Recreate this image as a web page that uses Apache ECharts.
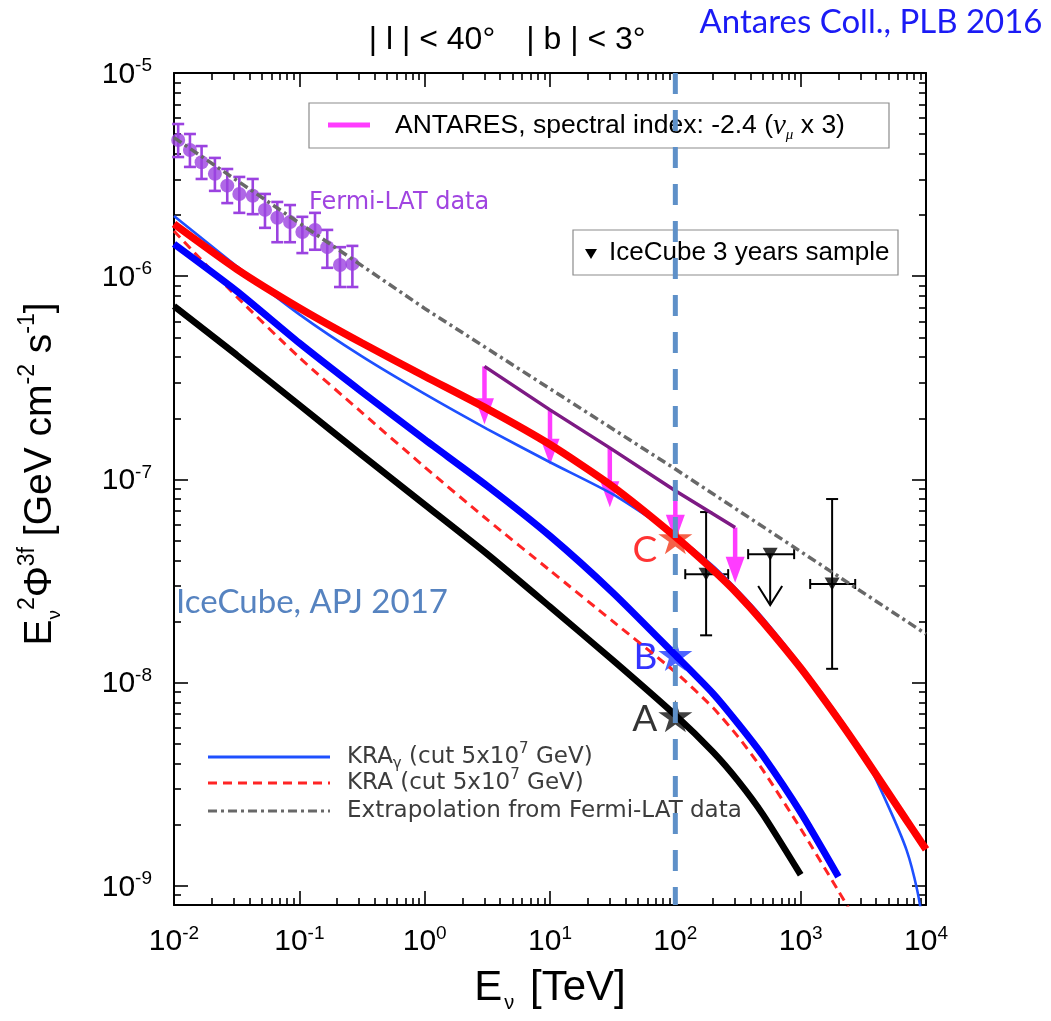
<!DOCTYPE html>
<html>
<head>
<meta charset="utf-8">
<script src="https://cdn.jsdelivr.net/npm/echarts@6/dist/echarts.min.js"></script>
<style>
  html, body { margin: 0; padding: 0; background: #fff; }
  #chart { width: 1051px; height: 1021px; }
</style>
</head>
<body>
<div id="chart"></div>
<script>
// E in TeV, flux = E^2 Phi in GeV cm^-2 s^-1
const modelE = [0.01, 0.0316, 0.1, 0.316, 1, 3.16, 10, 31.6, 100, 200, 316, 500, 1000, 2000, 3160, 5000, 7000, 8500, 10000];

// thick red (C)
const curveC = [1.806e-6, 1.084e-6, 6.98e-7, 4.69e-7, 3.22e-7, 2.225e-7, 1.485e-7, 9.23e-8, 5.23e-8, 3.58e-8, 2.72e-8, 1.987e-8, 1.180e-8, 6.60e-9, 4.39e-9, 2.87e-9, 2.10e-9, 1.757e-9, 1.512e-9];
// thick blue (B)
const curveB = [1.440e-6, 8.46e-7, 4.69e-7, 2.695e-7, 1.572e-7, 9.29e-8, 5.27e-8, 2.78e-8, 1.367e-8, 8.84e-9, 6.30e-9, 4.37e-9, 2.30e-9, 1.11e-9, null, null, null, null, null];
// thick black (A)
const curveA = [7.13e-7, 4.10e-7, 2.323e-7, 1.317e-7, 7.52e-8, 4.29e-8, 2.363e-8, 1.292e-8, 6.92e-9, 4.556e-9, 3.29e-9, 2.245e-9, 1.134e-9, null, null, null, null, null, null];
// KRA gamma (cut 5x10^7 GeV), thin blue
const kraGamma = [1.978e-6, 1.121e-6, 6.49e-7, 4.03e-7, 2.635e-7, 1.770e-7, 1.215e-7, 8.46e-8, 5.29e-8, 3.75e-8, 2.836e-8, 2.079e-8, 1.221e-8, 6.85e-9, 4.45e-9, 2.47e-9, 1.50e-9, 9.54e-10, 5.41e-10];
// KRA (cut 5x10^7 GeV), red dashed
const kra = [1.668e-6, 7.94e-7, 3.98e-7, 2.134e-7, 1.151e-7, 6.34e-8, 3.566e-8, 2.007e-8, 1.127e-8, 7.52e-9, 5.43e-9, 3.71e-9, 1.912e-9, 9.45e-10, 5.84e-10, null, null, null, null];

// extrapolation from Fermi-LAT data
const extrapE = [0.01, 1, 100, 10000];
const extrapFlux = [4.81e-6, 6.94e-7, 1.125e-7, 1.735e-8];

// Fermi-LAT points
const fermiE = [0.0108, 0.0134, 0.0166, 0.0212, 0.0266, 0.0332, 0.0425, 0.0532, 0.0667, 0.0843, 0.1057, 0.1334, 0.167, 0.211, 0.265];
const fermiFlux = [4.68e-6, 4.18e-6, 3.64e-6, 3.19e-6, 2.79e-6, 2.54e-6, 2.49e-6, 2.12e-6, 1.94e-6, 1.85e-6, 1.65e-6, 1.69e-6, 1.39e-6, 1.135e-6, 1.15e-6];
const fermiHi = [5.61e-6, 5.01e-6, 4.37e-6, 3.82e-6, 3.37e-6, 3.08e-6, 3.01e-6, 2.54e-6, 2.32e-6, 2.24e-6, 1.96e-6, 2.05e-6, 1.69e-6, 1.39e-6, 1.41e-6];
const fermiLo = [3.86e-6, 3.45e-6, 3.01e-6, 2.63e-6, 2.29e-6, 2.05e-6, 2.02e-6, 1.73e-6, 1.47e-6, 1.47e-6, 1.30e-6, 1.35e-6, 1.10e-6, 8.85e-7, 8.85e-7];

// ANTARES upper limits (spectral index -2.4)
const antaresE = [3, 10, 30, 100, 300];
const antaresLimit = [3.6e-7, 2.2e-7, 1.43e-7, 8.8e-8, 5.8e-8];
const antaresArrowTip = [1.87e-7, 1.18e-7, 7.3e-8, 5.0e-8, 3.1e-8];

// IceCube 3 years sample
const iceE = [176, 571, 1782];
const iceFlux = [3.42e-8, 4.29e-8, 3.06e-8];
const iceEmin = [120, 381, 1191];
const iceEmax = [264, 887, 2723];
const iceFluxMin = [1.71e-8, null, 1.17e-8];
const iceFluxMax = [6.91e-8, null, 8.01e-8];
const iceLimitTip = [null, 2.41e-8, null];

// marked points at 100 TeV
const starLabels = ['A', 'B', 'C'];
const starE = [100, 100, 100];
const starFlux = [6.85e-9, 1.37e-8, 5.15e-8];
const starColors = ['#111111', '#1f3dff', '#f23a1a'];
const starTextColors = ['#000000', '#0000ff', '#ff0000'];
const markE = 100;

// axes (log10 units)
const xDecades = [-2, -1, 0, 1, 2, 3, 4];
const yDecades = [-9, -8, -7, -6, -5];
const X_MIN = -2, X_MAX = 4, Y_MIN = -9.094, Y_MAX = -5;

const lg = Math.log10;
const SANS = '"Liberation Sans", Arial, sans-serif';
const FERMI_COLOR = '#9b42e0';
const ARROW_COLOR = '#ff3cff';

function minorTicks(lo, hi) {
  const out = [];
  for (let d = Math.floor(lo); d < hi; d++) {
    for (let k = 2; k <= 9; k++) {
      const v = d + lg(k);
      if (v > lo && v < hi) out.push(v);
    }
  }
  return out;
}
const xMinor = minorTicks(X_MIN, X_MAX);
const yMinor = minorTicks(Y_MIN, Y_MAX);

function pts(xs, ys) {
  return xs.map((x, i) => ys[i] == null ? null : [lg(x), lg(ys[i])]).filter(Boolean);
}

const tickRich = {
  b: { fontSize: 30, fontFamily: SANS, color: '#000', lineHeight: 33, verticalAlign: 'bottom' },
  s: { fontSize: 19, fontFamily: SANS, color: '#000', lineHeight: 19, verticalAlign: 'top' }
};
const powLabel = v => '{b|10}{s|' + Math.round(v) + '}';

function axis(dim, position, major, extra) {
  const isX = dim === 'x';
  const ax = {
    type: 'value',
    min: isX ? X_MIN : Y_MIN,
    max: isX ? X_MAX : Y_MAX,
    position: position,
    axisLine: { show: major, onZero: false, lineStyle: { color: '#000', width: 2 } },
    axisTick: {
      show: true, inside: true, length: major ? 14 : 7,
      customValues: major ? (isX ? xDecades : yDecades) : (isX ? xMinor : yMinor),
      lineStyle: { color: '#000', width: 1.6 }
    },
    axisLabel: { show: false },
    splitLine: { show: false }
  };
  return Object.assign(ax, extra || {});
}

const chart = echarts.init(document.getElementById('chart'));

function renderErrorBar(params, api) {
  const x = api.value(0);
  const pLo = api.coord([x, api.value(2)]);
  const pHi = api.coord([x, api.value(3)]);
  const w = 6;
  const style = { stroke: FERMI_COLOR, lineWidth: 2.6 };
  return {
    type: 'group', children: [
      { type: 'line', shape: { x1: pLo[0], y1: pLo[1], x2: pHi[0], y2: pHi[1] }, style },
      { type: 'line', shape: { x1: pLo[0] - w, y1: pLo[1], x2: pLo[0] + w, y2: pLo[1] }, style },
      { type: 'line', shape: { x1: pHi[0] - w, y1: pHi[1], x2: pHi[0] + w, y2: pHi[1] }, style }
    ]
  };
}

function renderArrow(params, api) {
  const top = api.coord([api.value(0), api.value(1)]);
  const tip = api.coord([api.value(0), api.value(2)]);
  const hh = 26, hw = 9.5;
  return {
    type: 'group', children: [
      { type: 'line', shape: { x1: top[0], y1: top[1], x2: tip[0], y2: tip[1] - hh + 2 }, style: { stroke: ARROW_COLOR, lineWidth: 4.5 } },
      { type: 'polygon', shape: { points: [[tip[0] - hw, tip[1] - hh], [tip[0] + hw, tip[1] - hh], [tip[0], tip[1]]] }, style: { fill: ARROW_COLOR } }
    ]
  };
}

function renderIce(params, api) {
  const x = api.value(0), y = api.value(1);
  const c = api.coord([x, y]);
  const l = api.coord([api.value(2), y]);
  const r = api.coord([api.value(3), y]);
  const st = { stroke: '#000', lineWidth: 2 };
  const ch = [
    { type: 'line', shape: { x1: l[0], y1: l[1], x2: r[0], y2: r[1] }, style: st },
    { type: 'line', shape: { x1: l[0], y1: l[1] - 5, x2: l[0], y2: l[1] + 5 }, style: st },
    { type: 'line', shape: { x1: r[0], y1: r[1] - 5, x2: r[0], y2: r[1] + 5 }, style: st }
  ];
  if (api.value(7)) {
    const lo = api.coord([x, api.value(4)]);
    const hi = api.coord([x, api.value(5)]);
    ch.push({ type: 'line', shape: { x1: lo[0], y1: lo[1], x2: hi[0], y2: hi[1] }, style: st });
    ch.push({ type: 'line', shape: { x1: lo[0] - 6, y1: lo[1], x2: lo[0] + 6, y2: lo[1] }, style: st });
    ch.push({ type: 'line', shape: { x1: hi[0] - 6, y1: hi[1], x2: hi[0] + 6, y2: hi[1] }, style: st });
  }
  if (api.value(8)) {
    const t = api.coord([x, api.value(6)]);
    ch.push({ type: 'line', shape: { x1: c[0], y1: c[1], x2: t[0], y2: t[1] }, style: st });
    ch.push({ type: 'polyline', shape: { points: [[t[0] - 12, t[1] - 19], [t[0], t[1]], [t[0] + 12, t[1] - 19]] }, style: { stroke: '#000', lineWidth: 2, fill: 'none' } });
  }
  return { type: 'group', children: ch };
}

const iceData = iceE.map((e, i) => {
  const hasV = iceFluxMin[i] != null;
  const isUL = iceLimitTip[i] != null;
  return [lg(e), lg(iceFlux[i]), lg(iceEmin[i]), lg(iceEmax[i]),
    lg(hasV ? iceFluxMin[i] : iceFlux[i]), lg(hasV ? iceFluxMax[i] : iceFlux[i]),
    lg(isUL ? iceLimitTip[i] : iceFlux[i]), hasV ? 1 : 0, isUL ? 1 : 0];
});

const starPath = 'path://M50 0 L61.17 34.63 L97.55 34.55 L68.07 55.87 L79.39 90.45 L50 69 L20.61 90.45 L31.93 55.87 L2.45 34.55 L38.83 34.63 Z';
const starOffsets = [[0, 3], [0, 2], [0, 12]];

const line = (name, data, color, width, type, smooth) => ({
  name, type: 'line', data, symbol: 'none', showSymbol: false,
  smooth: smooth ? 0.22 : false,
  lineStyle: { color, width, type: type || 'solid' }, silent: true
});

const yNameRich = {
  e: { fontSize: 39, fontFamily: SANS, fill: '#000', lineHeight: 48, verticalAlign: 'middle' },
  sub: { fontSize: 19, fontFamily: SANS, fill: '#000', lineHeight: 19, verticalAlign: 'bottom' },
  sup: { fontSize: 23, fontFamily: SANS, fill: '#000', lineHeight: 23, verticalAlign: 'top' }
};

const option = {
  animation: false,
  backgroundColor: '#fff',
  grid: { left: 174, right: 125, top: 73, bottom: 116, outerBoundsMode: 'none' },
  xAxis: [
    axis('x', 'bottom', true, {
      axisLabel: { show: true, customValues: xDecades, margin: 19, formatter: powLabel, rich: tickRich },
      name: '{e|E}{sub|ν}{e| [TeV]}',
      nameLocation: 'middle', nameGap: 58,
      nameTextStyle: {
        rich: {
          e: { fontSize: 42, fontFamily: SANS, color: '#000', lineHeight: 50, verticalAlign: 'middle' },
          sub: { fontSize: 20, fontFamily: SANS, color: '#000', lineHeight: 20, verticalAlign: 'bottom', padding: [0, 4, 0, 2] }
        }
      }
    }),
    axis('x', 'bottom', false),
    axis('x', 'top', true),
    axis('x', 'top', false)
  ],
  yAxis: [
    axis('y', 'left', true, {
      axisLabel: { show: true, customValues: yDecades, margin: 22, formatter: powLabel, rich: tickRich }
    }),
    axis('y', 'left', false),
    axis('y', 'right', true),
    axis('y', 'right', false)
  ],
  series: [
    line('Extrapolation from Fermi-LAT data', pts(extrapE, extrapFlux), '#686868', 3.5, [9, 4, 3, 4], false),
    line('KRAγ (cut 5x10^7 GeV)', pts(modelE, kraGamma), '#1e50ff', 2.6, 'solid', true),
    line('KRA (cut 5x10^7 GeV)', pts(modelE, kra), '#ff2424', 3, [9, 6], true),
    line('A', pts(modelE, curveA), '#000000', 6.5, 'solid', true),
    line('B', pts(modelE, curveB), '#0000ff', 7, 'solid', true),
    line('C', pts(modelE, curveC), '#ff0000', 7.5, 'solid', true),
    line('ANTARES limit', pts(antaresE, antaresLimit), '#7d1a84', 3.5, 'solid', false),
    {
      name: 'ANTARES arrows', type: 'custom', renderItem: renderArrow, silent: true,
      encode: { x: 0, y: [1, 2] },
      data: antaresE.map((e, i) => [lg(e), lg(antaresLimit[i]), lg(antaresArrowTip[i])])
    },
    {
      name: 'Fermi-LAT errors', type: 'custom', renderItem: renderErrorBar, silent: true,
      encode: { x: 0, y: [1, 2, 3] },
      data: fermiE.map((e, i) => [lg(e), lg(fermiFlux[i]), lg(fermiLo[i]), lg(fermiHi[i])])
    },
    {
      name: 'Fermi-LAT data', type: 'scatter', symbol: 'circle', symbolSize: 14, silent: true,
      itemStyle: { color: FERMI_COLOR },
      data: pts(fermiE, fermiFlux)
    },
    {
      name: 'IceCube errors', type: 'custom', renderItem: renderIce, silent: true,
      encode: { x: 0, y: 1 },
      data: iceData
    },
    {
      name: 'IceCube 3 years sample', type: 'scatter', symbol: 'triangle', symbolRotate: 180,
      symbolSize: [15, 13], silent: true, itemStyle: { color: '#000' },
      data: pts(iceE, iceFlux)
    },
    {
      name: 'points', type: 'scatter', symbol: starPath, symbolKeepAspect: true, symbolSize: 34, silent: true,
      data: starE.map((e, i) => ({
        name: starLabels[i], value: [lg(e), lg(starFlux[i])],
        itemStyle: { color: starColors[i] },
        label: { color: starTextColors[i], offset: starOffsets[i] }
      })),
      label: {
        show: true, position: 'left', distance: 1, formatter: '{b}',
        fontSize: 37, fontFamily: 'Lato, "Open Sans", sans-serif'
      }
    },
    {
      name: 'E = 100 TeV', type: 'line', symbol: 'none', silent: true,
      data: [[lg(markE), Y_MAX], [lg(markE), Y_MIN]],
      lineStyle: { color: '#5e90c8', width: 5, type: [21, 16] }
    }
  ],
  graphic: [
    // y axis title
    {
      type: 'text', x: 40, y: 474, rotation: Math.PI / 2, style: {
        text: '{e|E}{sub|ν}{sup|2}{e|Φ}{sup|3f}{e| [GeV cm}{sup|-2}{e| s}{sup|-1}{e|]}',
        align: 'center', verticalAlign: 'middle', rich: yNameRich
      }
    },
    { type: 'text', x: 432, y: 40, style: { text: '| l | < 40°', font: '32px ' + SANS, fill: '#000', align: 'center', verticalAlign: 'middle' } },
    { type: 'text', x: 586, y: 40, style: { text: '| b | < 3°', font: '32px ' + SANS, fill: '#000', align: 'center', verticalAlign: 'middle' } },
    { type: 'text', x: 871, y: 22, style: { text: 'Antares Coll., PLB 2016', font: '33px Lato, "Open Sans", sans-serif', fill: '#1b1bf5', align: 'center', verticalAlign: 'middle' } },
    { type: 'text', x: 176, y: 602, style: { text: 'IceCube, APJ 2017', font: '33px Lato, "Open Sans", sans-serif', fill: '#5683c0', align: 'left', verticalAlign: 'middle' } },
    { type: 'text', x: 309, y: 203, style: { text: 'Fermi-LAT data', font: '24px "DejaVu Sans", sans-serif', fill: '#a044e0', align: 'left', verticalAlign: 'middle' } },

    // ANTARES legend box
    { type: 'rect', shape: { x: 309, y: 103, width: 580, height: 45 }, style: { fill: '#fff', stroke: '#8c8c8c', lineWidth: 1.2 } },
    { type: 'line', shape: { x1: 328, y1: 125, x2: 370, y2: 125 }, style: { stroke: ARROW_COLOR, lineWidth: 5 } },
    {
      type: 'text', x: 395, y: 126, style: {
        text: '{n|ANTARES, spectral index: -2.4 (}{nu|ν}{mu|μ}{n| x 3)}',
        align: 'left', verticalAlign: 'middle',
        rich: {
          n: { fontSize: 26.5, fontFamily: SANS, fill: '#000', lineHeight: 34, verticalAlign: 'middle' },
          nu: { fontSize: 29, fontFamily: '"Liberation Serif", serif', fontStyle: 'italic', fill: '#000', lineHeight: 34, verticalAlign: 'middle' },
          mu: { fontSize: 15, fontFamily: '"Liberation Serif", serif', fontStyle: 'italic', fill: '#000', lineHeight: 15, verticalAlign: 'bottom' }
        }
      }
    },

    // IceCube legend box
    { type: 'rect', shape: { x: 573, y: 230, width: 325, height: 45 }, style: { fill: '#fff', stroke: '#8c8c8c', lineWidth: 1.2 } },
    { type: 'polygon', shape: { points: [[585, 249], [597, 249], [591, 259]] }, style: { fill: '#000' } },
    { type: 'text', x: 609, y: 253, style: { text: 'IceCube 3 years sample', font: '26px ' + SANS, fill: '#000', align: 'left', verticalAlign: 'middle' } },

    // model legend
    { type: 'line', shape: { x1: 208, y1: 757, x2: 330, y2: 757 }, style: { stroke: '#1e50ff', lineWidth: 3 } },
    { type: 'line', shape: { x1: 208, y1: 783, x2: 330, y2: 783 }, style: { stroke: '#ff2424', lineWidth: 3, lineDash: [9, 6] } },
    { type: 'line', shape: { x1: 208, y1: 811, x2: 330, y2: 811 }, style: { stroke: '#686868', lineWidth: 3, lineDash: [9, 4, 3, 4] } },
    {
      type: 'text', x: 347, y: 757, style: {
        text: '{n|KRA}{sub|γ}{n| (cut 5x10}{sup|7}{n| GeV)}', align: 'left', verticalAlign: 'middle',
        rich: {
          n: { fontSize: 23, fontFamily: '"DejaVu Sans", sans-serif', fill: '#3c3c3c', lineHeight: 30, verticalAlign: 'middle' },
          sub: { fontSize: 15, fontFamily: '"DejaVu Sans", sans-serif', fill: '#3c3c3c', lineHeight: 15, verticalAlign: 'bottom' },
          sup: { fontSize: 15, fontFamily: '"DejaVu Sans", sans-serif', fill: '#3c3c3c', lineHeight: 15, verticalAlign: 'top' }
        }
      }
    },
    {
      type: 'text', x: 347, y: 783, style: {
        text: '{n|KRA (cut 5x10}{sup|7}{n| GeV)}', align: 'left', verticalAlign: 'middle',
        rich: {
          n: { fontSize: 23, fontFamily: '"DejaVu Sans", sans-serif', fill: '#3c3c3c', lineHeight: 30, verticalAlign: 'middle' },
          sup: { fontSize: 15, fontFamily: '"DejaVu Sans", sans-serif', fill: '#3c3c3c', lineHeight: 15, verticalAlign: 'top' }
        }
      }
    },
    { type: 'text', x: 347, y: 811, style: { text: 'Extrapolation from Fermi-LAT data', font: '23px "DejaVu Sans", sans-serif', fill: '#3c3c3c', align: 'left', verticalAlign: 'middle' } }
  ]
};

chart.setOption(option);
</script>
</body>
</html>
